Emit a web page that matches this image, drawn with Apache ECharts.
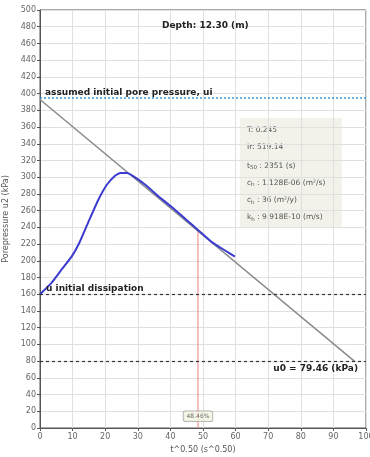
<!DOCTYPE html>
<html><head><meta charset="utf-8">
<script src="https://cdn.jsdelivr.net/npm/echarts@6/dist/echarts.min.js"></script>
<style>html,body{margin:0;padding:0;background:#fff}#c{width:370px;height:457px}</style>
</head><body><div id="c"></div>
<script>
// measured dissipation curve
const tVals = [0,3.6,6.7,9.7,12,14.8,17.9,20.5,23.1,24.6,26.7,28.7,32.3,36.4,40.5,44.6,48.7,52.8,56.9,59.8];
const u2Vals = [160,174,190,205,221,246,273,291,302,305,305,301,291,277,264,250,236,222,212,205];
// fitted straight line
const fitT = [0, 96.6];
const fitU = [393, 79.46];
// reference levels
const uiLevel = 395;
const uInitLevel = 160;
const u0Level = 79.46;
// 50% marker
const markT = 48.46;
const markU = 237;
const markLabel = '48.46%';
const markLabelY = 14;
// axis ticks
const xMin = 0, xMax = 100, xStep = 10;
const yMin = 0, yMax = 500, yStep = 20;
// text
const depthText = 'Depth: 12.30 (m)';
const infoLines = ['T: 0.245','Ir: 519.14','{n|t}{s|50}{n| : 2351 (s)}','{n|c}{s|h}{n| : 1.128E-06 (m²/s)}','{n|c}{s|h}{n| : 36 (m²/y)}','{n|k}{s|h}{n| : 9.918E-10 (m/s)}'];

const chart = echarts.init(document.getElementById('c'));
const bold = {fontFamily:'DejaVu Sans', fontWeight:'bold', fontSize:9, color:'#222'};
chart.setOption({
  animation:false,
  grid:{left:40,right:4,top:10,bottom:29,show:true,borderColor:'#555',borderWidth:1,backgroundColor:'#fff',outerBoundsMode:'none',containLabel:false},
  xAxis:{type:'value',min:xMin,max:xMax,interval:xStep,
    name:'t^0.50 (s^0.50)',nameLocation:'middle',nameGap:15,
    nameTextStyle:{fontSize:8,color:'#555',fontFamily:'DejaVu Sans'},
    axisLine:{lineStyle:{color:'#555'}},axisTick:{length:3,lineStyle:{color:'#555'}},
    axisLabel:{fontSize:8,color:'#666',margin:5,fontFamily:'DejaVu Sans'},
    splitLine:{lineStyle:{color:'#e0e0e0'}}},
  yAxis:{type:'value',min:yMin,max:yMax,interval:yStep,
    name:'Porepressure u2 (kPa)',nameLocation:'middle',nameGap:27,
    nameTextStyle:{fontSize:8,color:'#555',fontFamily:'DejaVu Sans'},
    axisLine:{show:true,lineStyle:{color:'#555'}},axisTick:{show:true,length:3,lineStyle:{color:'#555'}},
    axisLabel:{fontSize:8,color:'#666',margin:4,fontFamily:'DejaVu Sans'},
    splitLine:{lineStyle:{color:'#e0e0e0'}}},
  series:[
    {type:'line',data:fitT.map((t,i)=>[t,fitU[i]]),symbol:'none',lineStyle:{color:'#8a8a8a',width:1.5},z:2,
     markLine:{silent:true,symbol:'none',data:[
       {yAxis:uiLevel,lineStyle:{color:'#3a9ad9',type:[2,2],width:1.5},
        label:{position:'insideStartTop',formatter:'assumed initial pore pressure, ui',distance:[5,1],...bold}},
       {yAxis:uInitLevel,lineStyle:{color:'#333',type:[3,3],width:1.2},
        label:{position:'insideStartTop',formatter:'u initial dissipation',distance:[6,1],...bold}},
       {yAxis:u0Level,lineStyle:{color:'#333',type:[3,3],width:1.2},
        label:{position:'insideEndBottom',formatter:'u0 = 79.46 (kPa)',distance:[8,3],...bold}}
     ]}},
    {type:'line',data:[[markT,0],[markT,markU]],symbol:'none',lineStyle:{color:'#f08080',width:1},z:1},
    {type:'line',data:tVals.map((t,i)=>[t,u2Vals[i]]),symbol:'none',smooth:0.15,lineStyle:{color:'#3b3bd0',width:2},z:3},
    {type:'scatter',data:[[markT,markLabelY]],symbolSize:0,z:4,
     label:{show:true,position:'inside',formatter:markLabel,fontSize:6,color:'#444',fontFamily:'DejaVu Sans',
       backgroundColor:'#f4f4e4',borderColor:'#999',borderWidth:0.8,borderRadius:2,padding:[2,3]}}
  ],
  graphic:[
    {type:'text',left:162,top:21,z:100,style:{text:depthText,font:'bold 9px "DejaVu Sans"',fill:'#222'}},
    {type:'group',left:240,top:118,z:100,children:[
      {type:'rect',shape:{x:0,y:0,width:102,height:110},style:{fill:'#f2f2ea'}},
      ...infoLines.map((s,i)=>({type:'text',x:7,y:8+i*17.3,style:{text:s,font:'7.5px "DejaVu Sans"',fill:'#555',
        rich:{n:{fontSize:7.5,fontFamily:'DejaVu Sans',fill:'#555'},s:{fontSize:5.5,fontFamily:'DejaVu Sans',fill:'#555',padding:[4,0,0,0]}}}}))
    ]}
  ]
});
</script></body></html>
